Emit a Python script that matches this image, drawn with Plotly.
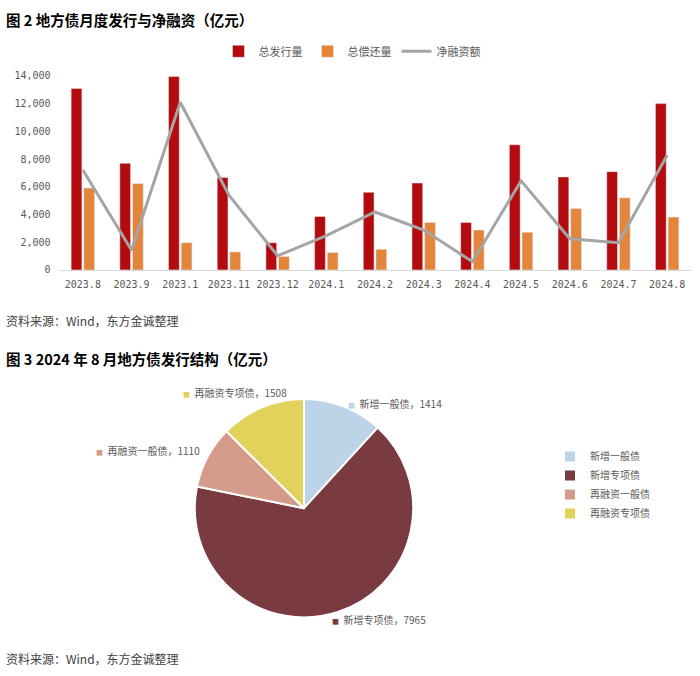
import plotly.graph_objects as go

# 图2 数据（亿元）
months = ["2023.8", "2023.9", "2023.1", "2023.11", "2023.12", "2024.1", "2024.2",
          "2024.3", "2024.4", "2024.5", "2024.6", "2024.7", "2024.8"]
issuance = [13080, 7690, 13950, 6670, 1960, 3850, 5600, 6270, 3430, 9030, 6710, 7090, 11997]
repayment = [5910, 6240, 1960, 1300, 970, 1250, 1490, 3430, 2880, 2720, 4440, 5200, 3810]
net_financing = [7210, 1420, 12100, 5400, 1020, 2480, 4180, 2880, 590, 6430, 2250, 1960, 8270]

# 图3 数据（亿元）
pie_labels = ["新增一般债", "新增专项债", "再融资一般债", "再融资专项债"]
pie_values = [1414, 7965, 1110, 1508]

W, H = 700, 676
cjk = "Noto Sans CJK SC"
mono = "DejaVu Sans Mono, Noto Sans CJK SC"
text_grey = "#595959"
pie_colors = ["#BDD3E8", "#7A3B40", "#D49A8A", "#E2D15B"]


def px_x(x):
    return x / W


def px_y(y):
    return 1 - y / H


fig = go.Figure()

# bars + net financing line
fig.add_trace(go.Bar(x=months, y=issuance, name="总发行量", marker_color="#B30B0E"))
fig.add_trace(go.Bar(x=months, y=repayment, name="总偿还量", marker_color="#E3853A"))
fig.add_trace(go.Scatter(x=months, y=net_financing, name="净融资额", mode="lines",
                         line=dict(color="#A5A5A5", width=3)))

# pie
fig.add_trace(go.Pie(
    labels=pie_labels, values=pie_values, sort=False, direction="clockwise",
    rotation=0, marker=dict(colors=pie_colors, line=dict(color="white", width=2)),
    textinfo="none", hoverinfo="label+value", legend="legend2",
    domain=dict(x=[px_x(193), px_x(415)], y=[px_y(621.5), px_y(399.5)]),
))

# titles / sources
notes = [
    ("图 2 地方债月度发行与净融资（亿元）", 14, 14.5, True),
    ("资料来源：Wind，东方金诚整理", 320, 12, False),
    ("图 3 2024 年 8 月地方债发行结构（亿元）", 358, 14.5, True),
    ("资料来源：Wind，东方金诚整理", 663, 12, False),
]
annotations = []
for txt, y, size, bold in notes:
    annotations.append(dict(
        text=f"<b>{txt}</b>" if bold else txt, x=px_x(4), y=px_y(y),
        xref="paper", yref="paper", xanchor="left", yanchor="middle", showarrow=False,
        font=dict(family=cjk, size=size, color="#000000" if bold else "#404040"),
    ))

# pie data labels (positions as in the original layout)
label_pos = [(346, 404), (330, 624), (94, 452), (181, 393)]
for lab, val, col, (x, y) in zip(pie_labels, pie_values, pie_colors, label_pos):
    annotations.append(dict(
        text=f"<span style='color:{col};font-size:7px'>■</span>  {lab}，{val}",
        x=px_x(x), y=px_y(y), xref="paper", yref="paper", xanchor="left",
        yanchor="middle", showarrow=False,
        font=dict(family=cjk, size=10, color=text_grey),
    ))

fig.update_layout(
    width=W, height=H, margin=dict(l=0, r=0, t=0, b=0),
    paper_bgcolor="white", plot_bgcolor="white",
    barmode="group", bargap=0.48, bargroupgap=0.15,
    font=dict(family=cjk, color=text_grey),
    xaxis=dict(domain=[px_x(58.5), px_x(691.5)], type="category",
               showline=True, linecolor="#D9D9D9", linewidth=1, showgrid=False,
               ticks="", ticklabelstandoff=5,
               tickfont=dict(family=mono, size=10, color=text_grey), anchor="y"),
    yaxis=dict(domain=[px_y(268.3), px_y(71)], range=[0, 14000], dtick=2000,
               tickformat=",", showgrid=False, zeroline=False, showline=False,
               ticklabelstandoff=7,
               tickfont=dict(family=mono, size=10, color=text_grey), anchor="x"),
    legend=dict(orientation="h", x=px_x(352), y=px_y(46), xanchor="center",
                yanchor="middle", font=dict(family=cjk, size=11, color=text_grey),
                bgcolor="rgba(0,0,0,0)"),
    legend2=dict(x=px_x(550), y=px_y(487), xanchor="left", yanchor="middle",
                 font=dict(family=cjk, size=10, color=text_grey),
                 bgcolor="rgba(0,0,0,0)", tracegroupgap=0),
    annotations=annotations,
    showlegend=True,
)

# page has a default 8px body margin; drop it so the figure sits at the top-left corner
fig.write_html("out.html", config={"displayModeBar": False},
               post_script="document.body.style.margin='0';")
